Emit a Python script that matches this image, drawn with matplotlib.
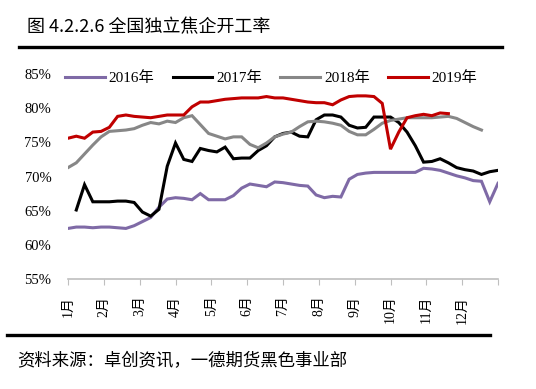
import numpy as np
import matplotlib
matplotlib.use('Agg')
import matplotlib.pyplot as plt
from matplotlib.lines import Line2D

# weekly data, week 0..52 (None = no value)
months = ['1月', '2月', '3月', '4月', '5月', '6月', '7月', '8月', '9月', '10月', '11月', '12月']

rate_2016 = [62.4, 62.6, 62.6, 62.5, 62.6, 62.6, 62.5, 62.4, 62.8, 63.4,
             64.0, 65.5, 66.7, 66.9, 66.8, 66.6, 67.5, 66.6, 66.6, 66.6,
             67.2, 68.3, 68.9, 68.7, 68.5, 69.2, 69.1, 68.9, 68.7, 68.6,
             67.3, 66.9, 67.1, 67.0, 69.6, 70.3, 70.5, 70.6, 70.6, 70.6,
             70.6, 70.6, 70.6, 71.2, 71.1, 70.9, 70.5, 70.1, 69.8, 69.4,
             69.3, 66.3, 69.0]
rate_2017 = [None, 65.1, 68.8, 66.3, 66.3, 66.3, 66.4, 66.4, 66.2, 64.8,
             64.2, 65.2, 71.5, 74.9, 72.5, 72.2, 74.1, 73.8, 73.6, 74.3,
             72.6, 72.7, 72.7, 73.8, 74.5, 75.8, 76.3, 76.5, 75.9, 75.8,
             78.3, 79.0, 79.0, 78.7, 77.5, 77.1, 77.2, 78.7, 78.7, 78.7,
             77.9, 76.5, 74.5, 72.1, 72.2, 72.6, 72.0, 71.3, 71.0, 70.8,
             70.3, 70.7, 70.9]
rate_2018 = [71.3, 72.0, 73.3, 74.6, 75.8, 76.6, 76.7, 76.8, 77.0, 77.5,
             77.9, 77.7, 78.1, 77.9, 78.6, 78.9, 77.6, 76.3, 75.9, 75.5,
             75.8, 75.8, 74.7, 74.2, 74.9, 75.8, 76.2, 76.5, 77.3, 78.0,
             78.1, 78.0, 77.8, 77.5, 76.6, 76.1, 76.1, 76.9, 77.8, 78.2,
             78.4, 78.6, 78.6, 78.6, 78.6, 78.7, 78.8, 78.5, 77.9, 77.3,
             76.8]
rate_2019 = [75.6, 75.9, 75.6, 76.5, 76.6, 77.2, 78.8, 79.0, 78.8, 78.7,
             78.6, 78.8, 79.0, 79.0, 79.0, 80.2, 80.9, 80.9, 81.1, 81.3,
             81.4, 81.5, 81.5, 81.5, 81.7, 81.5, 81.5, 81.3, 81.1, 80.9,
             80.8, 80.8, 80.5, 81.2, 81.7, 81.8, 81.8, 81.7, 80.7, 74.0,
             76.5, 78.6, 78.9, 79.1, 78.9, 79.3, 79.2]

series = [
    ('2016年', rate_2016, '#7F6AA6'),
    ('2017年', rate_2017, '#000000'),
    ('2018年', rate_2018, '#878787'),
    ('2019年', rate_2019, '#C00000'),
]

cjk = ['Noto Sans CJK SC', 'DejaVu Sans']
serif = ['Liberation Serif', 'Noto Sans CJK SC']

fig = plt.figure(figsize=(5.36, 3.89), dpi=100)
ax = fig.add_axes([68 / 536, 110 / 389, 430 / 536, 205 / 389])

for label, vals, color in series:
    y = np.array([np.nan if v is None else v for v in vals], dtype=float)
    ax.plot(np.arange(len(y)), y, color=color, lw=2.2, label=label,
            solid_joinstyle='miter')

ax.set_xlim(0, 52)
ax.set_ylim(55, 85)
ax.set_yticks(np.arange(55, 86, 5))
ax.set_yticklabels(['%d%%' % v for v in range(55, 86, 5)], family=serif, fontsize=10.5)

ticks = np.linspace(0, 52, 13)
ax.set_xticks(ticks)
ax.set_xticklabels(months + [''], rotation=90, family=serif, fontsize=10)

for s in ['top', 'right', 'left']:
    ax.spines[s].set_visible(False)
ax.spines['bottom'].set_color('#BFBFBF')
ax.spines['bottom'].set_linewidth(1.2)
ax.tick_params(axis='x', direction='out', length=4, color='#BFBFBF', pad=8)
ax.tick_params(axis='y', length=0, pad=12)

fig.legend(loc='center', bbox_to_anchor=(0.506, 1 - 78 / 389), ncol=4,
           frameon=False, handlelength=2.6, handletextpad=0.25,
           columnspacing=1.2, prop={'family': serif, 'size': 11})

fig.text(27 / 536, 1 - 27 / 389, '图 4.2.2.6 全国独立焦企开工率', family=cjk,
         fontsize=13, va='center', ha='left')
fig.add_artist(Line2D([19 / 536, 502 / 536], [1 - 47 / 389] * 2, lw=2.4, color='black'))
fig.add_artist(Line2D([7 / 536, 490 / 536], [1 - 335 / 389] * 2, lw=2.4, color='black'))
fig.text(17 / 536, 1 - 361 / 389, '资料来源：卓创资讯，一德期货黑色事业部', family=cjk,
         fontsize=12.5, va='center', ha='left')

fig.savefig('out.png', dpi=100)
